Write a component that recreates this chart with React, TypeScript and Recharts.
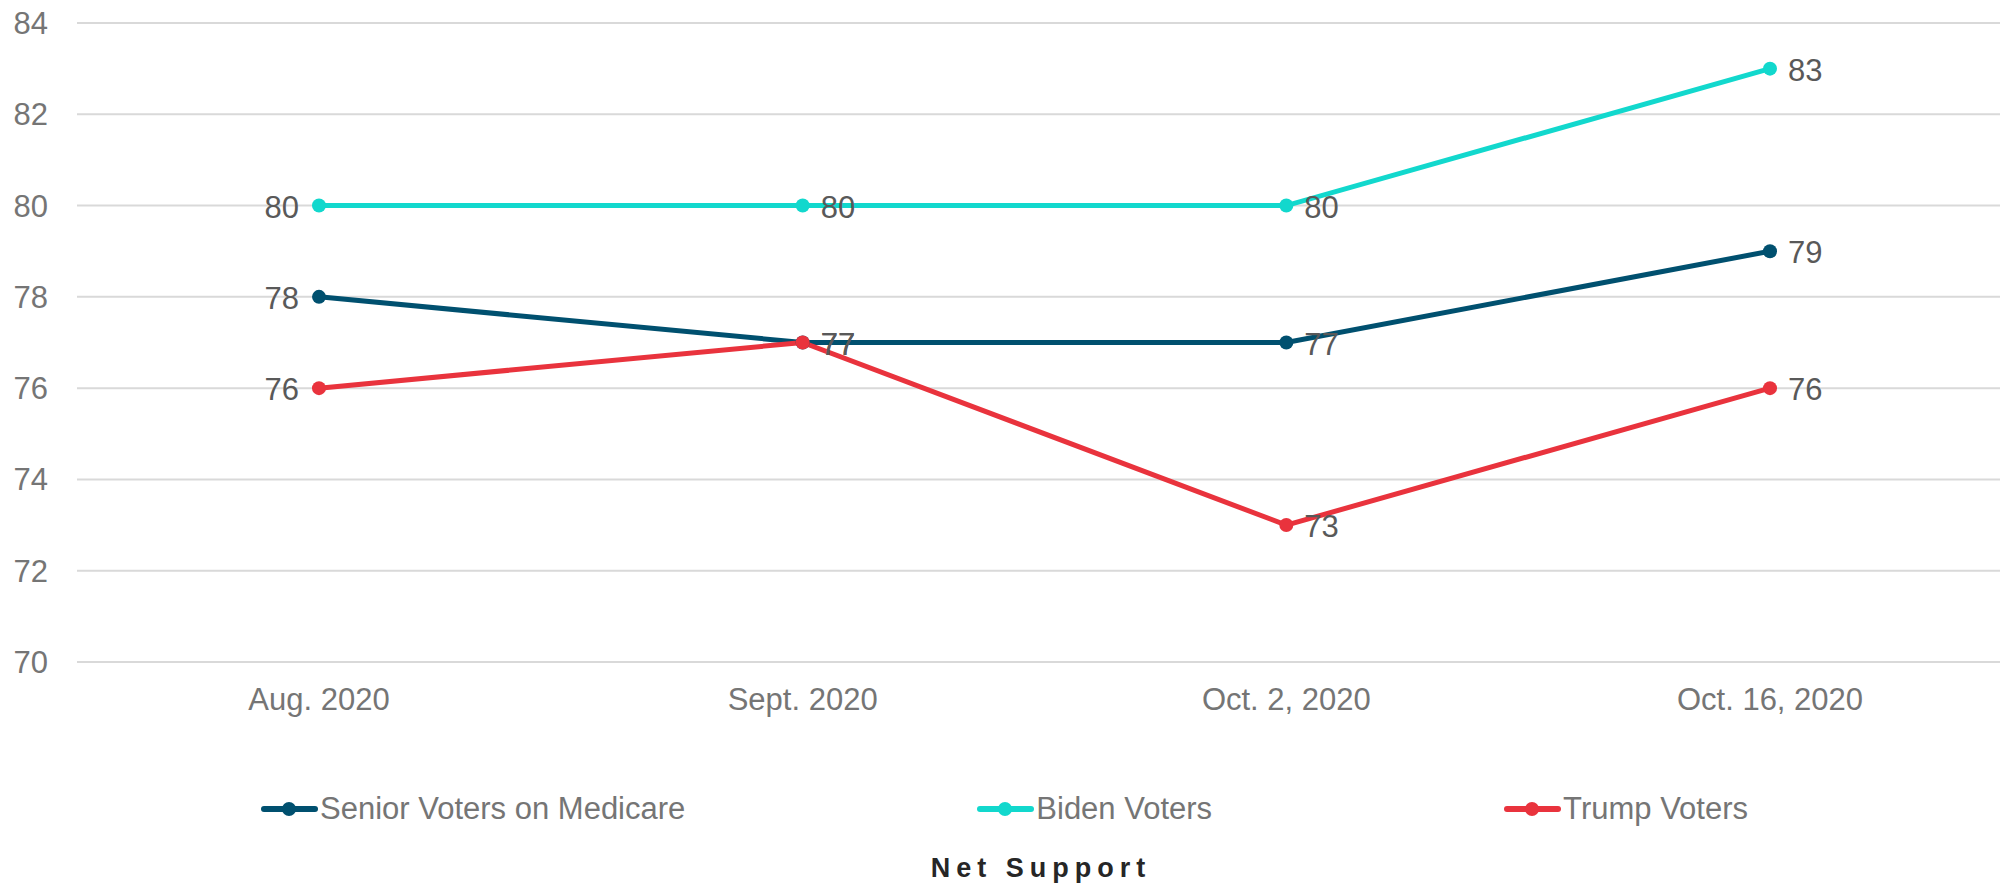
import { CartesianGrid, Legend, Line, LineChart, XAxis, YAxis } from "recharts"

const months = ["Aug. 2020", "Sept. 2020", "Oct. 2, 2020", "Oct. 16, 2020"]
const seniorVoters = [78, 77, 77, 79]
const bidenVoters = [80, 80, 80, 83]
const trumpVoters = [76, 77, 73, 76]
const yTicks = [70, 72, 74, 76, 78, 80, 82, 84]

const series = [
  { key: "senior", name: "Senior Voters on Medicare", color: "#00506F" },
  { key: "biden", name: "Biden Voters", color: "#12D8CD" },
  { key: "trump", name: "Trump Voters", color: "#E9333D" },
]

const data = months.map((month, i) => ({
  month,
  senior: seniorVoters[i],
  biden: bidenVoters[i],
  trump: trumpVoters[i],
}))

const FONT = '"Liberation Sans", Arial, sans-serif'

function PointLabel(props: any) {
  const { x, y, value, index } = props
  const first = index === 0
  return (
    <text
      x={first ? x - 20 : x + 18}
      y={y}
      dy={12}
      textAnchor={first ? "end" : "start"}
      fill="#595959"
      fontSize={31}
      fontFamily={FONT}
    >
      {value}
    </text>
  )
}

function LegendContent() {
  return (
    <div style={{ position: "relative", height: 161, fontFamily: FONT }}>
      <div style={{ position: "absolute", top: 67, left: 261, display: "flex", gap: 292, alignItems: "center" }}>
        {series.map((s) => (
          <div key={s.key} style={{ display: "flex", alignItems: "center" }}>
            <svg width={57} height={20} style={{ marginRight: 2 }}>
              <line x1={3} y1={10} x2={54} y2={10} stroke={s.color} strokeWidth={6} strokeLinecap="round" />
              <circle cx={28} cy={10} r={7} fill={s.color} />
            </svg>
            <span style={{ fontSize: 31, color: "#757575", lineHeight: "40px" }}>{s.name}</span>
          </div>
        ))}
      </div>
      <div
        style={{
          position: "absolute",
          top: 128,
          left: 841,
          width: 400,
          textAlign: "center",
          fontSize: 27,
          fontWeight: "bold",
          letterSpacing: 6,
          color: "#262626",
          lineHeight: "36px",
        }}
      >
        Net Support
      </div>
    </div>
  )
}

export default function App() {
  return (
    <div style={{ position: "absolute", left: 0, top: 0, width: 2000, height: 883, overflow: "hidden", background: "#fff" }}>
      <LineChart width={2012} height={883} data={data} margin={{ top: 23, right: 0, left: 0, bottom: 0 }} style={{ fontFamily: FONT }}>
        <CartesianGrid vertical={false} stroke="#D9D9D9" strokeWidth={2} />
        <XAxis
          dataKey="month"
          axisLine={false}
          tickLine={false}
          tickSize={0}
          tickMargin={26}
          height={60}
          padding={{ left: 242, right: 242 }}
          tick={{ fill: "#757575", fontSize: 31 }}
          interval={0}
        />
        <YAxis
          domain={[70, 84]}
          ticks={yTicks}
          axisLine={false}
          tickLine={false}
          tickSize={0}
          tickMargin={29}
          width={77}
          tick={{ fill: "#757575", fontSize: 31 }}
        />
        <Legend verticalAlign="bottom" height={161} content={() => <LegendContent />} />
        {series.map((s) => (
          <Line
            key={s.key}
            type="linear"
            dataKey={s.key}
            name={s.name}
            stroke={s.color}
            strokeWidth={5}
            dot={{ r: 7, fill: s.color, stroke: "none" }}
            activeDot={false}
            label={<PointLabel />}
            isAnimationActive={false}
          />
        ))}
      </LineChart>
    </div>
  )
}
